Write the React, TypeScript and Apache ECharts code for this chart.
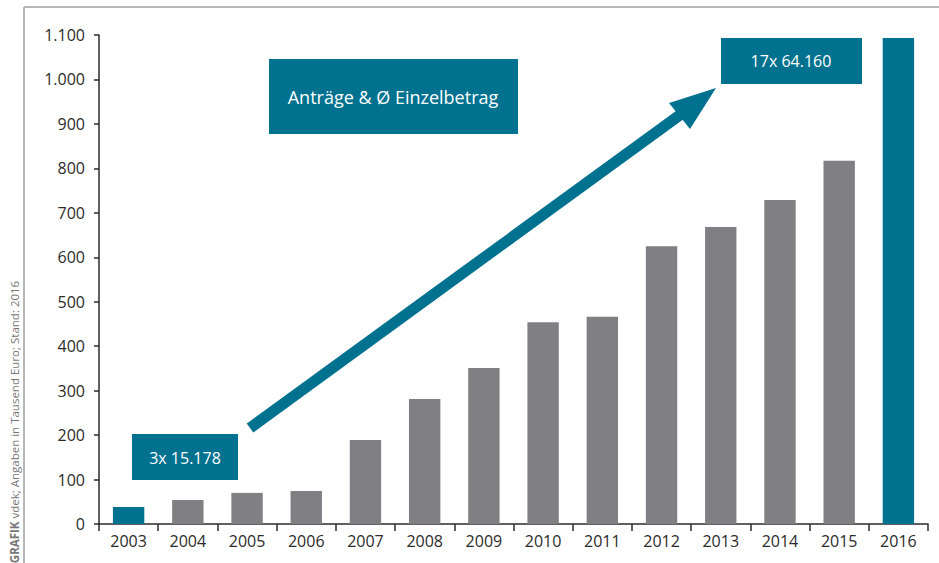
import React, { useEffect, useRef } from "react";
import * as echarts from "echarts";

const years = ["2003","2004","2005","2006","2007","2008","2009","2010","2011","2012","2013","2014","2015","2016"];
const values = [38, 54, 70, 74, 189, 281, 351, 454, 466, 625, 668, 729, 817, 1093];
const highlighted = ["2003", "2016"];
const yTicks = { min: 0, max: 1100, interval: 100 };
const boxTitle = "Anträge & Ø Einzelbetrag";
const boxStart = "3x 15.178";
const boxEnd = "17x 64.160";
const sourceNote = "vdek; Angaben in Tausend Euro; Stand: 2016";

const TEAL = "#00718F";
const GRAY = "#808084";
const FONT = "'Open Sans', 'Noto Sans', sans-serif";

export default function App() {
  const ref = useRef<HTMLDivElement>(null);
  useEffect(() => {
    document.body.style.margin = "0";
    const chart = echarts.init(ref.current!, null, { renderer: "svg" });
    const fmt = (v: number) => String(v).replace(/\B(?=(\d{3})+(?!\d))/g, ".");
    chart.setOption({
      animation: false,
      backgroundColor: "#fff",
      grid: { left: 99, right: 11, top: 35, bottom: 39, containLabel: false },
      xAxis: {
        type: "category",
        data: years,
        axisLine: { lineStyle: { color: "#2b2b2b", width: 1.5 } },
        axisTick: { show: true, alignWithLabel: false, length: 7, lineStyle: { color: "#2b2b2b", width: 1.5 } },
        axisLabel: { color: "#2b2b2b", fontSize: 16, fontFamily: FONT, margin: 9 },
      },
      yAxis: {
        type: "value",
        min: yTicks.min,
        max: yTicks.max,
        interval: yTicks.interval,
        splitLine: { show: false },
        axisLine: { show: true, lineStyle: { color: "#2b2b2b", width: 1.5 } },
        axisTick: { show: true, length: 5, lineStyle: { color: "#2b2b2b", width: 1.5 } },
        axisLabel: { color: "#2b2b2b", fontSize: 16, fontFamily: FONT, margin: 14, formatter: fmt },
      },
      series: [
        {
          type: "bar",
          barWidth: "53%",
          data: values.map((v, i) => ({
            value: v,
            itemStyle: { color: highlighted.includes(years[i]) ? TEAL : GRAY },
          })),
        },
      ],
      graphic: [
        { type: "line", shape: { x1: 24, y1: 7, x2: 24, y2: 563 }, style: { stroke: "#a0a0a0", lineWidth: 1.5 } },
        { type: "line", shape: { x1: 24, y1: 7, x2: 939, y2: 7 }, style: { stroke: "#a0a0a0", lineWidth: 1.5 } },
        {
          type: "text",
          x: 14,
          y: 422,
          rotation: Math.PI / 2,
          style: {
            text: "{b|GRAFIK} " + sourceNote,
            align: "center",
            verticalAlign: "middle",
            fill: "#777",
            font: "11.5px " + FONT,
            rich: { b: { fontWeight: "bold", fill: "#777", fontSize: 11.5, fontFamily: FONT } },
          },
        },
        // arrow
        { type: "line", shape: { x1: 250, y1: 428, x2: 684, y2: 112 }, style: { stroke: TEAL, lineWidth: 11 } },
        { type: "polygon", shape: { points: [[716, 88], [669, 103], [690, 129]] }, style: { fill: TEAL } },
        // boxes
        { type: "rect", shape: { x: 269, y: 59, width: 249, height: 75 }, style: { fill: TEAL } },
        { type: "text", x: 393, y: 97, style: { text: boxTitle, fill: "#fff", font: "18px " + FONT, align: "center", verticalAlign: "middle" } },
        { type: "rect", shape: { x: 721, y: 38, width: 141, height: 46 }, style: { fill: TEAL } },
        { type: "text", x: 791, y: 61, style: { text: boxEnd, fill: "#fff", font: "16px " + FONT, align: "center", verticalAlign: "middle" } },
        { type: "rect", shape: { x: 132, y: 434, width: 106, height: 46 }, style: { fill: TEAL } },
        { type: "text", x: 185, y: 458, style: { text: boxStart, fill: "#fff", font: "16px " + FONT, align: "center", verticalAlign: "middle" } },
      ],
    });
    return () => chart.dispose();
  }, []);
  return <div ref={ref} style={{ position: "fixed", left: 0, top: 0, width: 939, height: 563 }} />;
}
